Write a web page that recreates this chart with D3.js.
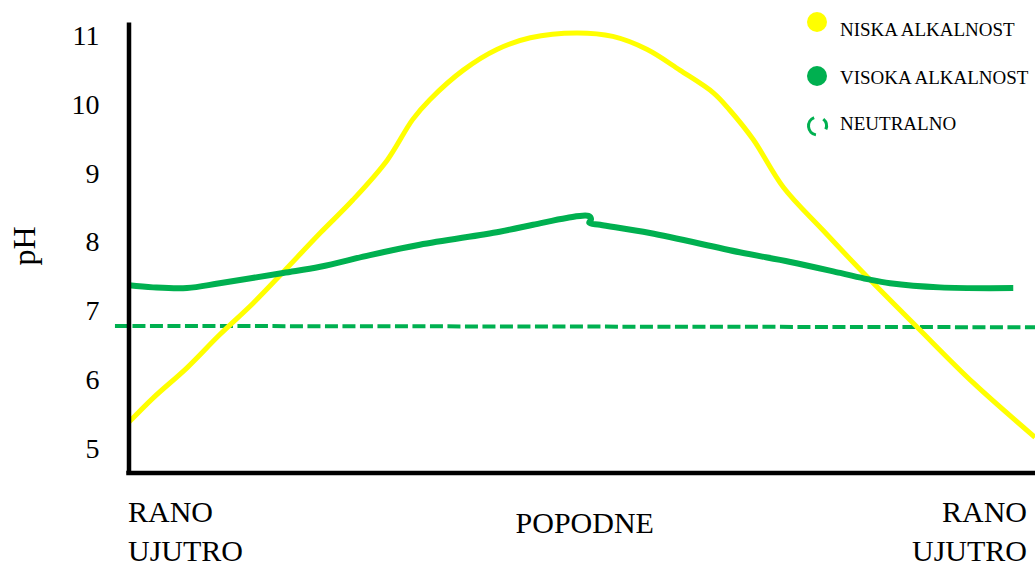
<!DOCTYPE html>
<html>
<head>
<meta charset="utf-8">
<script src="https://cdn.jsdelivr.net/npm/d3@7"></script>
<style>
  html, body { margin: 0; padding: 0; background: #fff; }
  svg { display: block; }
  text { font-family: "Liberation Serif", "Times New Roman", serif; fill: #000; }
</style>
</head>
<body>
<svg id="chart" width="1035" height="565"></svg>
<script>
// ---- data (x: position along the day, 0 = early morning, 100 = next early morning) ----
const yTicks = [5, 6, 7, 8, 9, 10, 11];
const yLabel = "pH";
const xCategories = [["RANO", "UJUTRO"], ["POPODNE"], ["RANO", "UJUTRO"]];
const xCategoryPos = [0, 50.3, 100];

const lowAlkX = [0, 2.65, 6.4, 10.0, 13.7, 17.0, 21.1, 24.7, 28.5, 31.3, 33.2, 36.9, 40.6, 44.3, 49.4, 53.4, 57.2, 60.8, 64.5, 66.3, 68.9, 72.2, 76.6, 81.5, 87.0, 93.2, 100];
const lowAlkY = [5.38, 5.73, 6.17, 6.65, 7.11, 7.56, 8.13, 8.61, 9.19, 9.78, 10.07, 10.50, 10.80, 10.97, 11.04, 10.99, 10.80, 10.50, 10.17, 9.92, 9.49, 8.80, 8.17, 7.49, 6.76, 5.95, 5.16];

const highAlkX = [0, 2.65, 6.4, 10.0, 17.0, 21.1, 26.6, 32.1, 40.9, 44.6, 48.3, 50.7, 51.0, 50.8, 52.0, 57.5, 67.4, 73.0, 78.5, 81.5, 84.0, 89.5, 97.6];
const highAlkY = [7.37, 7.34, 7.33, 7.40, 7.55, 7.64, 7.81, 7.96, 8.15, 8.25, 8.35, 8.38, 8.33, 8.28, 8.25, 8.13, 7.85, 7.71, 7.55, 7.46, 7.40, 7.34, 7.33];

const neutralX = [-1.55, 100];
const neutralY = [6.78, 6.76];

const legendLabels = ["NISKA ALKALNOST", "VISOKA ALKALNOST", "NEUTRALNO"];
const legendColors = ["#ffff00", "#00b050", "#00b050"];

// ---- drawing ----
const svg = d3.select("#chart");
const x = d3.scaleLinear().domain([0, 100]).range([129, 1035]);
const y = d3.scaleLinear().domain([4.64, 11.2]).range([473, 22]);

const zip = (xs, ys) => xs.map((v, i) => ({ x: v, y: ys[i] }));

// Neutral dashed line
const straight = d3.line().x(d => x(d.x)).y(d => y(d.y));
svg.append("path")
  .datum(zip(neutralX, neutralY))
  .attr("d", straight)
  .attr("fill", "none")
  .attr("stroke", "#00b050")
  .attr("stroke-width", 4)
  .attr("stroke-dasharray", "13 4.5");

const smooth = d3.line().x(d => x(d.x)).y(d => y(d.y)).curve(d3.curveCatmullRom.alpha(0.5));

// Low alkalinity (yellow)
svg.append("path")
  .datum(zip(lowAlkX, lowAlkY))
  .attr("d", smooth)
  .attr("fill", "none")
  .attr("stroke", "#ffff00")
  .attr("stroke-width", 5);

// High alkalinity (green)
svg.append("path")
  .datum(zip(highAlkX, highAlkY))
  .attr("d", smooth)
  .attr("fill", "none")
  .attr("stroke", "#00b050")
  .attr("stroke-width", 6)
  .attr("stroke-linejoin", "round");

// Axes
const yAxis = d3.axisLeft(y).tickValues(yTicks).tickSize(0).tickPadding(29).tickFormat(d3.format("d"));
const gy = svg.append("g").attr("transform", `translate(${x(0) - 0.5},0)`).call(yAxis);
gy.select(".domain").attr("stroke", "#000").attr("stroke-width", 4.5);
gy.selectAll(".tick text")
  .attr("font-family", "Liberation Serif, serif")
  .attr("font-size", 28)
  .attr("fill", "#000");

const xAxis = d3.axisBottom(x).tickValues([]).tickSize(0).tickSizeOuter(0);
const gx = svg.append("g").attr("transform", `translate(0,${y(4.64)})`).call(xAxis);
gx.select(".domain").attr("stroke", "#000").attr("stroke-width", 4.5)
  .attr("d", `M${x(0) - 2.75},0H${x(100)}`);

// y-axis title
svg.append("text")
  .attr("transform", `translate(35,246) rotate(-90)`)
  .attr("text-anchor", "middle")
  .attr("font-size", 32)
  .text(yLabel);

// x category labels
const anchors = ["start", "middle", "end"];
const dxs = [-1, 0, -8];
xCategories.forEach((lines, i) => {
  const t = svg.append("text")
    .attr("text-anchor", anchors[i])
    .attr("font-size", 30);
  lines.forEach((ln, j) => {
    t.append("tspan")
      .attr("x", x(xCategoryPos[i]) + dxs[i])
      .attr("y", lines.length === 1 ? 533 : 522 + j * 38.5)
      .text(ln);
  });
});

// Legend
const legendY = [22, 76, 126];
const textY = [36, 84, 130];
legendLabels.forEach((lab, i) => {
  if (i < 2) {
    svg.append("circle")
      .attr("cx", 817).attr("cy", legendY[i]).attr("r", 10)
      .attr("fill", legendColors[i]);
  } else {
    const arc = d3.arc().innerRadius(7.5).outerRadius(10.5);
    const g = svg.append("g").attr("transform", `translate(817.5,${legendY[i]})`);
    g.append("path").attr("d", arc({ startAngle: -170 * Math.PI / 180, endAngle: -22 * Math.PI / 180 }))
      .attr("fill", legendColors[i]);
    g.append("path").attr("d", arc({ startAngle: 40 * Math.PI / 180, endAngle: 112 * Math.PI / 180 }))
      .attr("fill", legendColors[i]);
  }
  svg.append("text")
    .attr("x", 840).attr("y", textY[i])
    .attr("font-size", 19)
    .text(lab);
});
</script>
</body>
</html>
